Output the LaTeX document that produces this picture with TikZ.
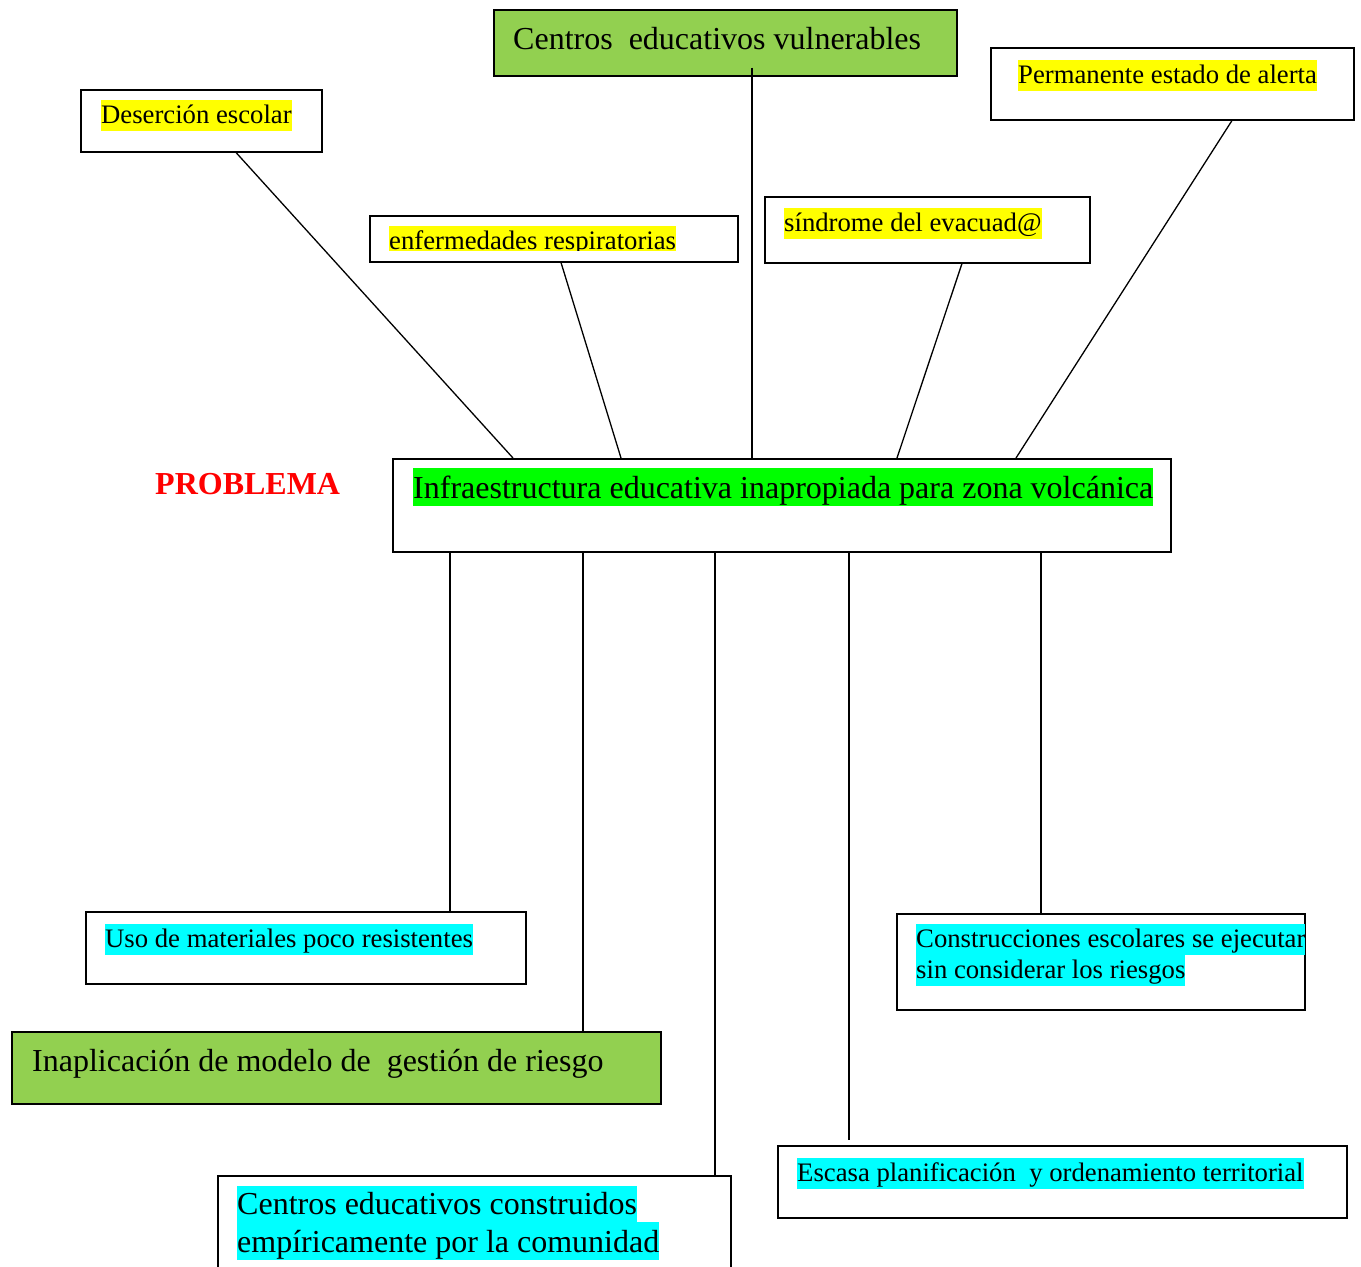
\documentclass[tikz,border=0pt]{standalone}
\usepackage{fontspec}
\setmainfont{Liberation Serif}
\definecolor{boxgreen}{HTML}{92D050}
\definecolor{hlyellow}{HTML}{FFFF00}
\definecolor{hlcyan}{HTML}{00FFFF}
\definecolor{hlgreen}{HTML}{00FF00}
\definecolor{probred}{HTML}{FF0000}
\tikzset{
  frame/.style={draw=black, line width=1.5pt, fill=white, inner sep=0pt, anchor=north west},
  gframe/.style={frame, fill=boxgreen},
  hl/.style={inner sep=0pt, anchor=north west, text height=23.5pt, text depth=7.5pt, font=\fontsize{26.7}{32}\selectfont},
  hlbig/.style={hl, text height=30pt, text depth=7.5pt, font=\fontsize{32}{38}\selectfont},
  plain/.style={inner sep=0pt, anchor=base west, font=\fontsize{32}{38}\selectfont},
  link/.style={draw=black, line width=1.3pt}
}
\begin{document}
\begin{tikzpicture}[x=1pt,y=-1pt]
\clip (0,0) rectangle (1361,1267);
\fill[white] (0,0) rectangle (1361,1267);

% boxes
\node[gframe, minimum width=463pt, minimum height=66pt] (cev) at (493,9) {};
\node[frame, minimum width=241pt, minimum height=62pt] (des) at (80,89) {};
\node[frame, minimum width=368pt, minimum height=46pt] (enf) at (369,215) {};
\node[frame, minimum width=325pt, minimum height=66pt] (sin) at (764,196) {};
\node[frame, minimum width=363pt, minimum height=72pt] (per) at (990,47) {};
\node[frame, minimum width=778pt, minimum height=93pt] (main) at (392,458) {};
\node[frame, minimum width=440pt, minimum height=72pt] (uso) at (85,911) {};
\node[frame, minimum width=408pt, minimum height=96pt] (con) at (896,913) {};
\node[gframe, minimum width=649pt, minimum height=72pt] (ina) at (11,1031) {};
\node[frame, minimum width=569pt, minimum height=72pt] (esc) at (777,1145) {};
\node[frame, minimum width=513pt, minimum height=120pt] (cen) at (217,1175) {};

% texts
\node[plain] (cevt) at (513,49) {Centros\ \ educativos vulnerables};
\node[hl, fill=hlyellow] (dest) at (101,100) {Deserción escolar};
\begin{scope}
\clip (369,215) rectangle (737,250);
\node[hl, fill=hlyellow] (enft) at (389,226) {enfermedades respiratorias};
\end{scope}
\node[hl, fill=hlyellow] (sint) at (784,208) {síndrome del evacuad@};
\node[hl, fill=hlyellow] (pert) at (1018,60) {Permanente estado de alerta};
\node[inner sep=0pt, anchor=base west, text=probred, font=\fontsize{32}{38}\selectfont\bfseries] (prob) at (155,494) {PROBLEMA};
\node[hlbig, fill=hlgreen] (maint) at (413,468) {Infraestructura educativa inapropiada para zona volcánica};
\node[hl, fill=hlcyan] (usot) at (105,924) {Uso de materiales poco resistentes};
\node[hl, fill=hlcyan] (cont1) at (916,924) {Construcciones escolares se ejecutar};
\node[hl, fill=hlcyan] (cont2) at (916,955) {sin considerar los riesgos};
\node[plain] (inat) at (32,1071) {Inaplicación de modelo de\ \ gestión de riesgo};
\node[hl, fill=hlcyan] (esct) at (797,1158) {Escasa planificación\ \ y ordenamiento territorial};
\node[hlbig, fill=hlcyan, text height=28pt, text depth=8pt] (cent1) at (237,1186) {Centros educativos construidos};
\node[hlbig, fill=hlcyan, text height=30pt, text depth=8pt] (cent2) at (237,1222) {empíricamente por la comunidad};

% connectors
\coordinate (cevend) at ([xshift=259pt, yshift=9pt]cev.south west);
\coordinate (escend) at ([xshift=72pt, yshift=5pt]esc.north west);
\draw[link] ([xshift=156pt]des.south west) -- ([xshift=121pt]main.north west);
\draw[link] ([xshift=192pt]enf.south west) -- ([xshift=229pt]main.north west);
\draw[link] (cevend) -- ([xshift=360pt]main.north west);
\draw[link] ([xshift=198pt]sin.south west) -- ([xshift=505pt]main.north west);
\draw[link] ([xshift=242pt]per.south west) -- ([xshift=624pt]main.north west);
\draw[link] ([xshift=58pt]main.south west) -- ([xshift=365pt]uso.north west);
\draw[link] ([xshift=191pt]main.south west) -- ([xshift=572pt]ina.north west);
\draw[link] ([xshift=323pt]main.south west) -- ([xshift=498pt]cen.north west);
\draw[link] ([xshift=457pt]main.south west) -- (escend);
\draw[link] ([xshift=649pt]main.south west) -- ([xshift=145pt]con.north west);
\end{tikzpicture}
\end{document}
